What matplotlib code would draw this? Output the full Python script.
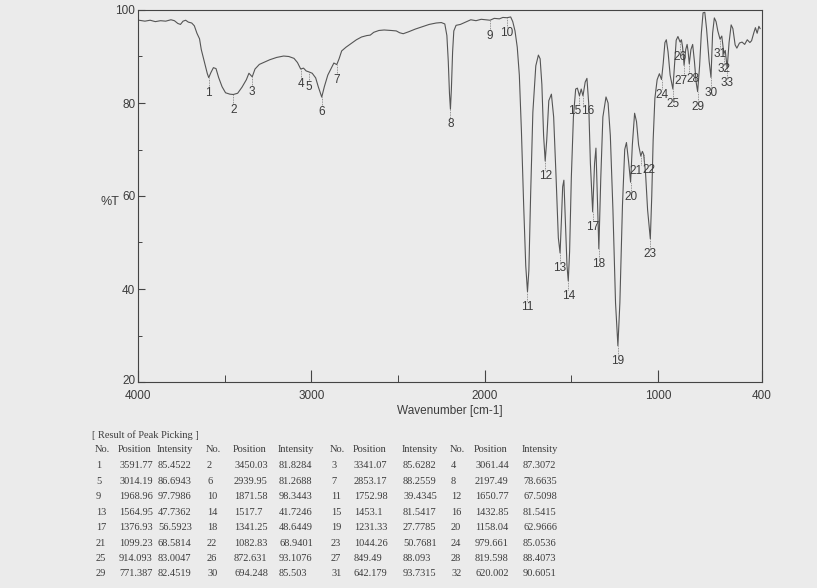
import matplotlib
matplotlib.use('Agg')
import matplotlib.pyplot as plt
import matplotlib.transforms as mtransforms
from matplotlib.ticker import FixedLocator

# spectrum: wavenumber (cm-1) and %T
wavenumber = [
    3995, 3960, 3930, 3900, 3870, 3840, 3810, 3790, 3770, 3755,
    3740, 3725, 3710, 3690, 3675, 3660, 3645, 3635, 3625, 3612,
    3600, 3591.77, 3580, 3565, 3550, 3535, 3515, 3495, 3470, 3450.03,
    3425, 3400, 3375, 3360, 3341.07, 3325, 3300, 3270, 3240, 3200,
    3160, 3130, 3100, 3080, 3061.44, 3045, 3030, 3014.19, 2995, 2975,
    2960, 2939.95, 2925, 2905, 2885, 2870, 2853.17, 2840, 2825, 2800,
    2770, 2740, 2710, 2680, 2660, 2640, 2610, 2580, 2540, 2510,
    2490, 2470, 2440, 2400, 2360, 2320, 2280, 2250, 2230, 2218,
    2210, 2203, 2197.49, 2192, 2185, 2178, 2165, 2140, 2110, 2080,
    2050, 2020, 1995, 1968.96, 1945, 1915, 1895, 1871.58, 1850, 1838,
    1825, 1812, 1800, 1788, 1775, 1763, 1752.98, 1745, 1735, 1722,
    1705, 1690, 1680, 1670, 1660, 1650.77, 1642, 1630, 1615, 1602,
    1588, 1575, 1564.95, 1557, 1550, 1543, 1535, 1525, 1517.7, 1510,
    1500, 1488, 1475, 1465, 1453.1, 1443, 1432.85, 1420, 1410, 1400,
    1390, 1376.93, 1366, 1358, 1350, 1341.25, 1330, 1318, 1300, 1288,
    1275, 1260, 1245, 1231.33, 1220, 1205, 1192, 1182, 1170, 1158.04,
    1148, 1135, 1124, 1112, 1099.23, 1090, 1082.83, 1072, 1060, 1044.26,
    1036, 1028, 1018, 1005, 992, 979.661, 970, 960, 952, 942,
    930, 914.093, 905, 895, 885, 872.631, 865, 858, 849.49, 840,
    832, 826, 819.598, 810, 800, 790, 780, 771.387, 760, 750,
    740, 730, 720, 705, 694.248, 685, 675, 665, 655, 642.179,
    632, 620.002, 612, 601, 590, 578, 568, 555, 545, 530,
    515, 500, 485, 470, 460, 448, 438, 428, 418, 411]
transmittance = [
    97.8, 97.6, 97.8, 97.5, 97.7, 97.6, 97.9, 97.7, 97.1, 96.9,
    97.6, 97.8, 97.4, 97.2, 96.6, 95.0, 93.8, 91.5, 90.0, 88.0,
    86.3, 85.45, 86.5, 87.6, 87.4, 85.5, 83.5, 82.2, 81.9, 81.83,
    82.1, 83.4, 85.0, 86.4, 85.63, 87.3, 88.3, 88.8, 89.3, 89.8,
    90.1, 90.0, 89.6, 88.7, 87.31, 87.5, 86.9, 86.69, 86.4, 85.4,
    83.5, 81.27, 83.5, 86.0, 87.5, 88.6, 88.26, 89.5, 91.2, 92.0,
    92.8, 93.6, 94.2, 94.5, 94.6, 95.2, 95.6, 95.7, 95.6, 95.5,
    95.1, 94.9, 95.3, 95.9, 96.4, 96.9, 97.2, 97.3, 97.0, 94.5,
    89.0, 82.0, 78.66, 83.0, 91.0, 95.5, 96.7, 96.9, 97.4, 97.9,
    97.7, 98.0, 97.9, 97.8, 98.2, 98.1, 98.4, 98.34, 98.5, 97.5,
    95.5, 92.0, 86.0, 74.0, 58.0, 45.0, 39.43, 44.0, 60.0, 78.0,
    88.0, 90.3, 89.5, 84.0, 73.0, 67.51, 72.0, 80.5, 81.9, 77.0,
    64.0, 51.0, 47.74, 55.0, 62.0, 63.4, 55.0, 45.0, 41.72, 48.0,
    64.0, 77.0, 83.0, 83.2, 81.54, 83.0, 81.54, 84.5, 85.3, 80.0,
    67.0, 56.59, 67.0, 70.3, 60.0, 48.64, 64.0, 77.0, 81.3, 80.0,
    73.0, 57.0, 37.0, 27.78, 37.0, 58.0, 70.0, 71.5, 67.5, 62.97,
    71.0, 77.8, 76.0, 71.0, 68.58, 69.6, 68.94, 65.0, 57.0, 50.77,
    60.0, 72.0, 81.0, 85.0, 86.3, 85.05, 88.5, 93.0, 93.6, 91.0,
    86.0, 83.0, 88.0, 93.5, 94.3, 93.11, 93.6, 92.0, 88.09, 91.5,
    92.6, 91.0, 88.41, 91.5, 92.6, 89.0, 84.5, 82.45, 88.0, 95.0,
    99.4, 99.5, 96.0, 89.0, 85.5, 95.0, 98.3, 97.5, 95.5, 93.73,
    94.4, 90.61, 91.3, 87.5, 93.0, 96.8, 96.0, 92.5, 91.8, 92.9,
    93.1, 92.6, 93.6, 93.0, 93.4, 95.0, 96.2, 95.0, 96.5, 96.0]

# peak picking result
peak_no = list(range(1, 34))
peak_pos = [3591.77, 3450.03, 3341.07, 3061.44, 3014.19, 2939.95, 2853.17, 2197.49,
            1968.96, 1871.58, 1752.98, 1650.77, 1564.95, 1517.7, 1453.1, 1432.85,
            1376.93, 1341.25, 1231.33, 1158.04, 1099.23, 1082.83, 1044.26, 979.661,
            914.093, 872.631, 849.49, 819.598, 771.387, 694.248, 642.179, 620.002,
            601.0]
peak_int = [85.4522, 81.8284, 85.6282, 87.3072, 86.6943, 81.2688, 88.2559, 78.6635,
            97.7986, 98.3443, 39.4345, 67.5098, 47.7362, 41.7246, 81.5417, 81.5415,
            56.5923, 48.6449, 27.7785, 62.9666, 68.5814, 68.9401, 50.7681, 85.0536,
            83.0047, 93.1076, 88.093, 88.4073, 82.4519, 85.503, 93.7315, 90.6051,
            87.5]
table_rows = 32  # only the first 32 peaks are visible in the table

x_ticks = [4000, 3000, 2000, 1000, 400]
y_ticks = [20, 40, 60, 80, 100]

# small sideways nudges (points) for labels of close peaks
label_shift = {15: -3.4, 16: 3.4, 21: -3.6, 22: 3.6, 27: -2.4, 28: 2.4}

W, H = 817, 588
bg = '#ebebeb'
ink = '#3c3c3c'
sans = ['Liberation Sans Narrow', 'Liberation Sans', 'DejaVu Sans']
serif = ['Liberation Serif', 'DejaVu Serif']

fig = plt.figure(figsize=(W / 100, H / 100), dpi=100, facecolor=bg)
ax = fig.add_axes([138 / W, 1 - 382 / H, 624 / W, 372 / H])
ax.set_facecolor(bg)

ax.plot(wavenumber, transmittance, color='#555555', lw=0.8)
ax.set_xlim(4000, 400)
ax.set_ylim(20, 100)

# peak markers and numbers
ax.vlines(peak_pos, [t - 2.0 for t in peak_int], peak_int, colors='#777777',
          linestyles=(0, (1, 1)), lw=0.6)
for n, p, t in zip(peak_no, peak_pos, peak_int):
    ax.annotate(str(n), (p, t), xytext=(label_shift.get(n, 0), -11),
                textcoords='offset points', ha='center', va='center',
                fontsize=8.5, color=ink, family=sans)

for s in ax.spines.values():
    s.set_color('#444444')
    s.set_linewidth(0.8)

ax.xaxis.set_major_locator(FixedLocator(x_ticks))
ax.xaxis.set_minor_locator(FixedLocator([3500, 2500, 1500]))
ax.yaxis.set_major_locator(FixedLocator(y_ticks))
ax.yaxis.set_minor_locator(FixedLocator([30, 50, 70, 90]))
ax.tick_params(axis='x', which='major', direction='in', length=9, width=0.8,
               colors='#444444', labelcolor=ink, labelsize=8.5, pad=6)
ax.tick_params(axis='x', which='minor', direction='in', length=5, width=0.7,
               colors='#444444')
ax.tick_params(axis='y', which='major', direction='in', length=5, width=0.8,
               colors='#444444', labelcolor=ink, labelsize=8.5, pad=2)
ax.tick_params(axis='y', which='minor', direction='in', length=3, width=0.7,
               colors='#444444')
for lab in ax.get_xticklabels() + ax.get_yticklabels():
    lab.set_family(sans)

# lift the lowest y label a little so it clears the 4000 label
fig.canvas.draw()
ylabs = ax.get_yticklabels()
ylabs[0].set_transform(ylabs[0].get_transform() +
                       mtransforms.ScaledTranslation(0, 2 / 72, fig.dpi_scale_trans))

ax.set_xlabel('Wavenumber [cm-1]', fontsize=8.5, color=ink, family=sans, labelpad=2)
fig.text(110 / W, 1 - 202 / H, '%T', ha='center', va='center', fontsize=9,
         color=ink, family=sans)

# peak picking table
def ft(x, y, s):
    fig.text(x / W, 1 - y / H, s, ha='left', va='center', fontsize=7.5,
             color=ink, family=serif)

ft(92, 435, '[ Result of Peak Picking ]')
col_no = [95, 206, 330, 450]
col_pos = [118, 233, 353, 474]
col_int = [157, 278, 402, 522]
for g in range(4):
    ft(col_no[g], 450, 'No.')
    ft(col_pos[g], 450, 'Position')
    ft(col_int[g], 450, 'Intensity')
row_y0, row_dy = 466, 15.4
for i in range(table_rows):
    r, g = divmod(i, 4)
    y = row_y0 + r * row_dy
    ft(col_no[g] + 1, y, str(peak_no[i]))
    ft(col_pos[g] + 1, y, str(peak_pos[i]))
    ft(col_int[g] + 1, y, str(peak_int[i]))

fig.savefig('out.png', dpi=100, facecolor=bg)
